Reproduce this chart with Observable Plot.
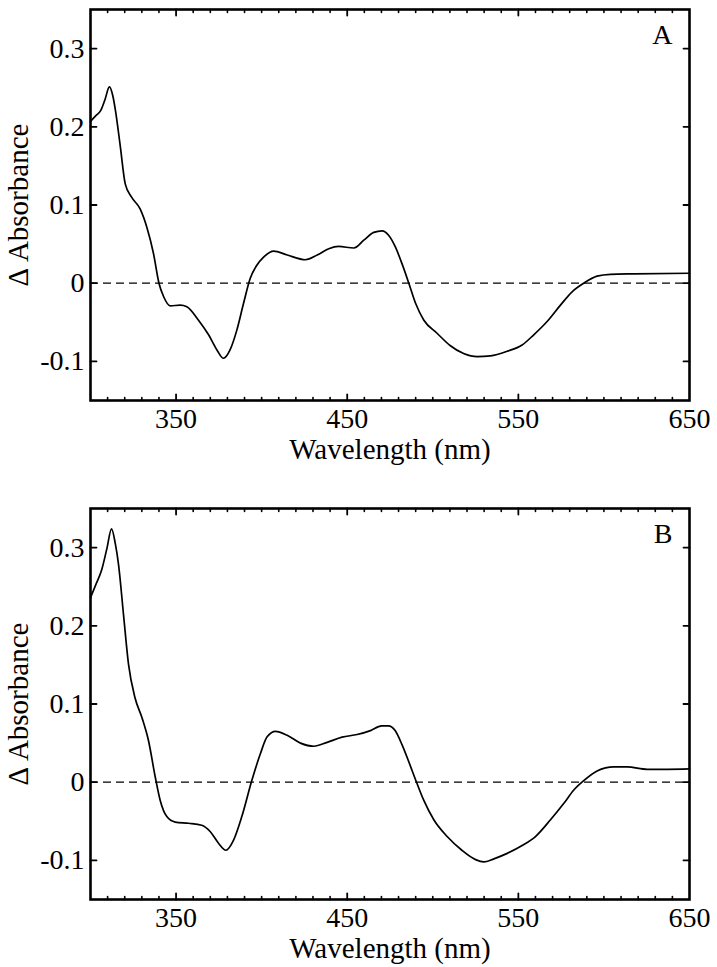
<!DOCTYPE html>
<html>
<head>
<meta charset="utf-8">
<script src="https://cdn.jsdelivr.net/npm/d3@7"></script>
<script src="https://cdn.jsdelivr.net/npm/@observablehq/plot@0.6"></script>
<style>
  html, body { margin: 0; padding: 0; background: #fff; }
  #chart { width: 717px; height: 967px; }
  #chart svg { display: block; }
</style>
</head>
<body>
<div id="chart"></div>
<script>
// Panel A
const wavelengthA = [300,303,306,308.5,311,313,314.5,317.3,320.3,324,329,333,336.8,340,342.7,346.6,352.4,356.3,363,369,373.8,377.7,381.6,385.5,389.4,393.3,397.2,401,407,415,425.6,432.5,439.2,445,453.9,459.7,465.5,470.4,474.3,478.2,482,486,490,494.7,502.5,510.3,518,526,533.7,543.5,552.2,559,566.8,574.6,581.4,588.2,596,603.8,617.5,650];
const absorbanceA = [0.207,0.214,0.221,0.235,0.251,0.240,0.222,0.177,0.127,0.110,0.095,0.071,0.038,0.000,-0.017,-0.029,-0.028,-0.030,-0.047,-0.066,-0.085,-0.096,-0.085,-0.060,-0.026,0.006,0.023,0.033,0.041,0.036,0.030,0.036,0.044,0.047,0.045,0.055,0.065,0.067,0.061,0.046,0.025,0.000,-0.026,-0.047,-0.064,-0.080,-0.090,-0.094,-0.093,-0.087,-0.079,-0.066,-0.049,-0.028,-0.011,0.000,0.009,0.0114,0.012,0.0127];

// Panel B
const wavelengthB = [300,303,306.6,309.5,312.3,314.5,316.4,319.3,322.2,326,330,333.9,337.8,340.7,344.6,349.5,357.3,365,369.9,374.8,379.1,383.6,388.4,394.3,399.2,403.2,408.1,414.9,422.7,430.5,438.3,447,455.8,463.6,470,474,478,482,486,490.5,494.7,500.6,508.4,517,525,529.8,535.7,543.5,552.2,560,568.8,576.6,582.4,588.2,596,605.8,613.6,625.3,637,650];
const absorbanceB = [0.236,0.252,0.272,0.298,0.324,0.305,0.278,0.214,0.151,0.108,0.083,0.053,0.007,-0.023,-0.044,-0.051,-0.0525,-0.055,-0.063,-0.078,-0.087,-0.074,-0.044,0.0025,0.036,0.058,0.065,0.060,0.050,0.046,0.051,0.0576,0.061,0.066,0.072,0.072,0.066,0.048,0.026,0.000,-0.023,-0.048,-0.0695,-0.087,-0.099,-0.102,-0.098,-0.091,-0.081,-0.0695,-0.048,-0.027,-0.010,0.002,0.0144,0.0195,0.0195,0.0165,0.0165,0.017];

const xTickLabels = [350, 450, 550, 650];
const xMajorTicks = [350, 450, 550];
const xMinorTicks = d3.range(310, 650, 10).filter(d => !xMajorTicks.includes(d));
const yTicks = [-0.1, 0, 0.1, 0.2, 0.3];
const xTitle = "Wavelength (nm)";
const yTitle = "\u0394 Absorbance";

const FONT = "'Liberation Serif', 'Times New Roman', serif";
const tickShape = { draw(ctx, l) { ctx.moveTo(0, 0); ctx.lineTo(0, -l); } };

function panel(wl, ab, letter, height, marginTop, marginBottom) {
  const data = wl.map((w, i) => ({w, a: ab[i]}));
  return Plot.plot({
    width: 717,
    height,
    marginLeft: 90,
    marginRight: 28,
    marginTop,
    marginBottom,
    style: { fontFamily: FONT, color: "#000", background: "#fff", overflow: "visible" },
    x: { domain: [300, 650] },
    y: { domain: [-0.15, 0.35] },
    marks: [
      Plot.ruleY([0], { stroke: "#000", strokeWidth: 1.3, strokeDasharray: "8,5" }),
      Plot.line(data, { x: "w", y: "a", stroke: "#000", strokeWidth: 1.7, curve: "monotone-x" }),
      // inward ticks
      Plot.vector(xMinorTicks, { x: d => d, frameAnchor: "bottom", anchor: "start", length: 3, rotate: 0, shape: tickShape, stroke: "#000", strokeWidth: 1.6 }),
      Plot.vector(xMinorTicks, { x: d => d, frameAnchor: "top", anchor: "start", length: 3, rotate: 180, shape: tickShape, stroke: "#000", strokeWidth: 1.6 }),
      Plot.vector(xMajorTicks, { x: d => d, frameAnchor: "bottom", anchor: "start", length: 6, rotate: 0, shape: tickShape, stroke: "#000", strokeWidth: 1.8 }),
      Plot.vector(xMajorTicks, { x: d => d, frameAnchor: "top", anchor: "start", length: 6, rotate: 180, shape: tickShape, stroke: "#000", strokeWidth: 1.8 }),
      Plot.vector(yTicks, { y: d => d, frameAnchor: "left", anchor: "start", length: 6, rotate: 90, shape: tickShape, stroke: "#000", strokeWidth: 1.8 }),
      Plot.vector(yTicks, { y: d => d, frameAnchor: "right", anchor: "start", length: 6, rotate: -90, shape: tickShape, stroke: "#000", strokeWidth: 1.8 }),
      Plot.frame({ stroke: "#000", strokeWidth: 2.6 }),
      // tick labels
      Plot.axisX({ ticks: xTickLabels, tickSize: 0, tickPadding: 8, fontSize: 28, label: null, tickFormat: d => String(d) }),
      Plot.axisY({ ticks: yTicks, tickSize: 0, tickPadding: 6, fontSize: 28, label: null, tickFormat: d => String(d) }),
      // titles
      Plot.text([xTitle], { text: d => d, frameAnchor: "bottom", textAnchor: "middle", lineAnchor: "bottom", dy: 58, fontSize: 29, fill: "#000" }),
      Plot.text([yTitle], { text: d => d, frameAnchor: "left", textAnchor: "middle", rotate: -90, dx: -72, lineAnchor: "middle", fontSize: 29, fill: "#000" }),
      Plot.text([letter], { text: d => d, frameAnchor: "top-right", textAnchor: "end", lineAnchor: "bottom", dx: -17, dy: 34, fontSize: 28, fill: "#000" })
    ]
  });
}

const root = document.getElementById("chart");
root.appendChild(panel(wavelengthA, absorbanceA, "A", 480, 9, 80));
root.appendChild(panel(wavelengthB, absorbanceB, "B", 487, 28, 68));
</script>
</body>
</html>
